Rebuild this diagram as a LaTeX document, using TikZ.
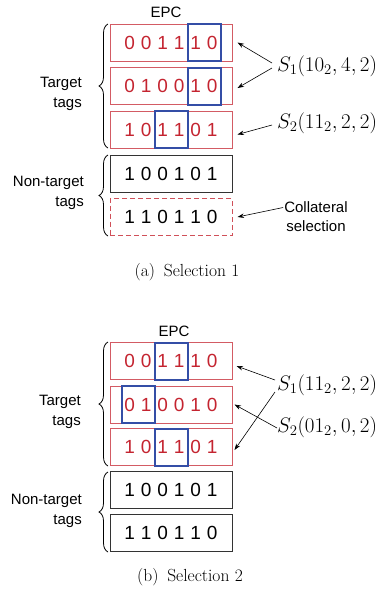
\documentclass[tikz,border=0pt]{standalone}
\usepackage{fix-cm}
\usepackage{fontspec}
\setsansfont{Liberation Sans}
\usetikzlibrary{decorations.pathreplacing,arrows.meta}

\definecolor{tagred}{RGB}{196,36,48}
\definecolor{selblue}{RGB}{52,78,166}

\tikzset{
	tagbox/.style={draw=tagred!75, line width=1pt, minimum width=122pt, minimum height=37pt, inner sep=0pt},
	plainbox/.style={draw=black!80, line width=1pt, minimum width=122pt, minimum height=37pt, inner sep=0pt},
	hitbox/.style={tagbox, draw=tagred!80, dashed, dash pattern=on 5pt off 3pt},
	selbox/.style={draw=selblue, line width=2pt, minimum width=33pt, minimum height=37pt, inner sep=0pt},
	bit/.style={font=\sffamily\fontsize{19}{19}\selectfont, inner sep=0pt},
	side/.style={font=\sffamily\fontsize{15}{20}\selectfont, align=right, anchor=east, inner sep=0pt},
	head/.style={font=\sffamily\fontsize{15}{18}\selectfont, inner sep=0pt},
	sel/.style={font=\fontsize{21}{24}\selectfont, anchor=west, inner sep=0pt},
	captext/.style={font=\fontsize{17.5}{20}\selectfont, inner sep=0pt},
	grp/.style={decorate, decoration={brace, amplitude=9pt}, line width=0.8pt},
	arr/.style={-{Stealth[length=6.5pt, width=4.5pt]}, line width=0.6pt}
}

\newcommand{\bits}[3]{%
	\foreach \b [count=\i from 0] in {#2}
		\node[bit, #3] at ([xshift=-41.25pt+16.5pt*\i]#1.center) {\b};%
}

\begin{document}
\begin{tikzpicture}[x=1pt, y=-1pt]
{
	\useasboundingbox (0,0) rectangle (380,590);

	% (a) Selection 1
	\node[head] (epca) at (166,12) {EPC};
	\node[tagbox] (a1) at (171,42.5) {};
	\node[tagbox] (a2) at (171,86) {};
	\node[tagbox] (a3) at (171,129.5) {};
	\node[plainbox] (a4) at (171,173.5) {};
	\node[hitbox] (a5) at (171,217) {};
	\node[selbox] (a1s) at ([xshift=33pt]a1.center) {};
	\node[selbox] (a2s) at ([xshift=33pt]a2.center) {};
	\node[selbox] (a3s) at (a3.center) {};
	\bits{a1}{0,0,1,1,1,0}{tagred}
	\bits{a2}{0,1,0,0,1,0}{tagred}
	\bits{a3}{1,0,1,1,0,1}{tagred}
	\bits{a4}{1,0,0,1,0,1}{black}
	\bits{a5}{1,1,0,1,1,0}{black}
	\draw[grp] (108,148) -- (108,24);
	\draw[grp] (108,236) -- (108,155);
	\node[side] (ta) at (82,93.5) {Target\\tags};
	\node[side] (na) at (84,193) {Non-target\\tags};
	\node[sel] (s1a) at (277,66) {$S_1(10_2,4,2)$};
	\node[sel] (s2a) at (277,123) {$S_2(11_2,2,2)$};
	\node[head, align=center, font=\sffamily\fontsize{15}{19}\selectfont] (coll) at (316,216.5) {Collateral\\selection};
	\draw[arr] ([xshift=-5pt, yshift=3pt]s1a.west) -- ([xshift=5pt]a1.east);
	\draw[arr] ([xshift=-5pt, yshift=-2pt]s1a.west) -- ([xshift=5pt, yshift=-2pt]a2.east);
	\draw[arr] ([xshift=-5pt, yshift=-2pt]s2a.west) -- ([xshift=5pt, yshift=-5pt]a3.east);
	\draw[arr] ([xshift=-1pt, yshift=9pt]coll.west) -- ([xshift=5pt]a5.east);
	\node[captext] (capa) at (187,272) {(a)\enspace Selection 1};

	% (b) Selection 2
	\node[head] (epcb) at (174,331) {EPC};
	\node[tagbox] (b1) at (171,361) {};
	\node[tagbox] (b2) at (171,404.5) {};
	\node[tagbox] (b3) at (171,447) {};
	\node[plainbox] (b4) at (171,490) {};
	\node[plainbox] (b5) at (171,533) {};
	\node[selbox] (b1s) at (b1.center) {};
	\node[selbox] (b2s) at ([xshift=-33pt]b2.center) {};
	\node[selbox] (b3s) at (b3.center) {};
	\bits{b1}{0,0,1,1,1,0}{tagred}
	\bits{b2}{0,1,0,0,1,0}{tagred}
	\bits{b3}{1,0,1,1,0,1}{tagred}
	\bits{b4}{1,0,0,1,0,1}{black}
	\bits{b5}{1,1,0,1,1,0}{black}
	\draw[grp] (108,466) -- (108,342);
	\draw[grp] (108,552) -- (108,472);
	\node[side] (tb) at (81,411.5) {Target\\tags};
	\node[side] (nb) at (82,510.5) {Non-target\\tags};
	\node[sel] (s1b) at (277,385) {$S_1(11_2,2,2)$};
	\node[sel] (s2b) at (277,427) {$S_2(01_2,0,2)$};
	\draw[arr] ([xshift=-2pt, yshift=5pt]s1b.west) -- ([xshift=4pt, yshift=-5pt]b1.east);
	\draw[arr] ([xshift=-2pt, yshift=-7pt]s1b.west) -- ([xshift=2pt, yshift=-3pt]b3.east);
	\draw[arr] ([xshift=0pt, yshift=-1pt]s2b.west) -- ([xshift=2pt]b2.east);
	\node[captext] (capb) at (190,577) {(b)\enspace Selection 2};
}
\end{tikzpicture}
\end{document}
